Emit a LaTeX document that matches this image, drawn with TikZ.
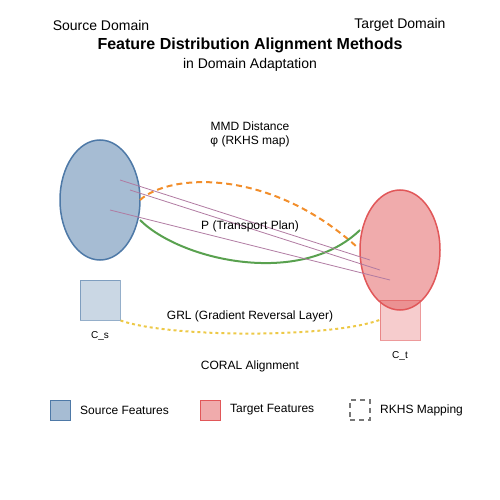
\documentclass[tikz,border=0pt]{standalone}
\usepackage{fontspec}
\setmainfont{Liberation Sans}
\usetikzlibrary{shapes.geometric}
\definecolor{tblue}{HTML}{4E79A7}
\definecolor{tred}{HTML}{E15759}
\definecolor{torange}{HTML}{F28E2B}
\definecolor{tgreen}{HTML}{59A14F}
\definecolor{tyellow}{HTML}{EDC948}
\definecolor{tpurple}{HTML}{B07AA1}
\definecolor{tgrey}{HTML}{777777}
\begin{document}
\begin{tikzpicture}[x=1pt,y=-1pt,
  lbl/.style={inner sep=0pt,font=\fontsize{12}{14}\selectfont},
  big/.style={inner sep=0pt,font=\fontsize{14}{16}\selectfont},
  small/.style={inner sep=0pt,font=\fontsize{10}{12}\selectfont},
  dom/.style={ellipse,minimum width=80pt,minimum height=120pt,inner sep=0pt,line width=1.5pt},
  cov/.style={minimum width=40pt,minimum height=40pt,inner sep=0pt,line width=1pt},
  leg/.style={minimum width=20pt,minimum height=20pt,inner sep=0pt,line width=1pt},
  tp/.style={tpurple,line width=0.8pt}
]
\useasboundingbox (0,0) rectangle (500,500);
% titles
\node[big] (srct) at (101,25) {Source Domain};
\node[big] (tgtt) at (400,25) {Target Domain};
\node[inner sep=0pt,font=\fontsize{16}{18}\selectfont\bfseries] (title) at (250,45) {Feature Distribution Alignment Methods};
\node[big] (sub) at (250,65) {in Domain Adaptation};
% domains
\node[dom,draw=tblue,fill=tblue!50] (src) at (100,200) {};
\node[dom,draw=tred,fill=tred!50] (tgt) at (400,250) {};
% covariance squares
\node[cov,draw=tblue,draw opacity=0.6,fill=tblue,fill opacity=0.3] (cs) at (100,300) {};
\node[cov,draw=tred,draw opacity=0.6,fill=tred,fill opacity=0.3] (ct) at (400,320) {};
\node[small] (csl) at (100,336) {C\_s};
\node[small] (ctl) at (400,356) {C\_t};
% coordinates
\coordinate (o1) at (140,200);
\coordinate (o2) at (357,247);
\coordinate (g1) at (140,220);
\coordinate (g2) at (360,230);
\coordinate (p1a) at (120,180); \coordinate (p1b) at (370,260);
\coordinate (p2a) at (130,190); \coordinate (p2b) at (380,270);
\coordinate (p3a) at (110,210); \coordinate (p3b) at (390,280);
% MMD
\draw[torange,line width=2pt,dash pattern=on 6pt off 4pt] (o1) .. controls (170,173) and (270,168) .. (o2);
% green
\draw[tgreen,line width=2pt] (g1) .. controls (180,260) and (300,288) .. (g2);
% transport
\draw[tp] (p1a) -- (p1b);
\draw[tp] (p2a) -- (p2b);
\draw[tp] (p3a) -- (p3b);
% GRL dotted
\draw[tyellow,line width=2pt,dash pattern=on 3pt off 3pt] (cs.south east) .. controls (170,338) and (330,338) .. (ct.west);
% labels
\node[lbl] (mmd) at (250,126) {MMD Distance};
\node[lbl] (phi) at (250,141) {φ (RKHS map)};
\node[lbl] (tpl) at (250,226) {P (Transport Plan)};
\node[lbl] (grl) at (250,316) {GRL (Gradient Reversal Layer)};
\node[lbl] (coral) at (250,366) {CORAL Alignment};
% legend
\node[leg,draw=tblue,fill=tblue!50] (l1) at (60,410) {};
\node[lbl,anchor=west] (l1t) at (80,410) {Source Features};
\node[leg,draw=tred,fill=tred!50] (l2) at (210,410) {};
\node[lbl,anchor=west] (l2t) at (230,410) {Target Features};
\node[leg,draw=tgrey,dash pattern=on 5pt off 4pt,line width=1.2pt] (l3) at (360,410) {};
\node[lbl,anchor=west] (l3t) at (380,410) {RKHS Mapping};
\end{tikzpicture}
\end{document}
